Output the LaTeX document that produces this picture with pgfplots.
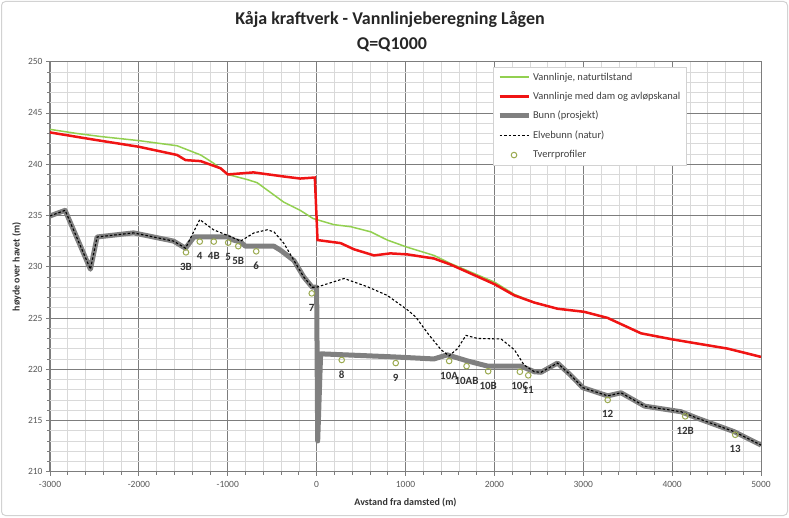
\documentclass[border=0pt]{standalone}
\usepackage{fontspec}
\setmainfont{Carlito}
\usepackage{pgfplots}
\usepackage{pgfplotstable}
\pgfplotsset{compat=1.18}
\definecolor{natgreen}{RGB}{146,208,80}
\definecolor{damred}{RGB}{240,20,20}
\definecolor{bunngray}{RGB}{128,128,128}
\definecolor{profcol}{RGB}{155,170,80}
\definecolor{majgrid}{RGB}{125,125,125}
\definecolor{mingrid}{RGB}{217,217,217}
\definecolor{ticktext}{RGB}{89,89,89}
\definecolor{framecol}{RGB}{210,210,210}
\pgfplotsset{legend image code/.code={\draw[mark repeat=2,mark phase=2,#1] plot coordinates {(0pt,0pt) (14.5pt,0pt) (29pt,0pt)};}}

\pgfplotstableread{
x y
-3000 243.4
-2700 243.0
-2430 242.7
-2000 242.3
-1570 241.8
-1305 240.9
-1160 240.1
-1000 239.0
-780 238.5
-670 238.2
-370 236.3
-185 235.5
-40 234.7
195 234.1
385 233.9
610 233.4
795 232.6
1020 231.9
1320 231.1
1510 230.3
2000 228.5
2225 227.3
2450 226.5
2710 225.9
3010 225.6
3275 225.0
3650 223.5
4010 222.9
4630 222.0
5000 221.2
}\natur

\pgfplotstableread{
x y
-3000 243.1
-2510 242.4
-2000 241.7
-1570 240.9
-1475 240.4
-1305 240.3
-1080 239.6
-1000 239.0
-710 239.2
-370 238.8
-185 238.6
-20 238.7
10 232.6
270 232.3
420 231.7
645 231.1
830 231.3
1020 231.2
1320 230.8
1510 230.2
2000 228.3
2225 227.2
2450 226.5
2710 225.9
3010 225.6
3275 225.0
3650 223.5
4010 222.9
4630 222.0
5000 221.2
}\dam

\pgfplotstableread{
x y
-3000 234.95
-2830 235.5
-2545 229.75
-2470 232.9
-2060 233.3
-1610 232.5
-1475 231.8
-1380 232.9
-1000 232.9
-935 232.6
-855 232.4
-800 232.0
-480 232.0
-405 231.6
-255 230.6
-145 229.0
-50 228.0
0 228.0
12 213.0
45 221.5
870 221.2
1320 221.0
1470 221.4
1700 220.8
1925 220.3
2300 220.3
2450 219.75
2525 219.7
2710 220.6
2860 219.4
2995 218.2
3275 217.4
3425 217.7
3690 216.4
4100 215.85
4290 215.2
4700 213.9
5000 212.6
}\bunn

\pgfplotstableread{
x y
-3000 234.95
-2830 235.5
-2545 229.75
-2470 232.9
-2060 233.3
-1610 232.5
-1475 231.8
-1315 234.6
-1160 233.6
-1015 233.1
-855 232.5
-705 233.3
-555 233.6
-480 233.4
-370 232.3
-255 230.6
-145 229.0
-50 228.0
0 228.0
310 228.85
570 228.05
795 227.2
1020 225.8
1115 225.1
1250 223.5
1400 221.9
1490 221.3
1585 222.0
1680 223.3
1810 223.0
2075 222.95
2225 221.9
2335 220.4
2450 219.75
2525 219.7
2710 220.6
2860 219.4
2995 218.2
3275 217.4
3425 217.7
3690 216.4
4100 215.85
4290 215.2
4700 213.9
5000 212.6
}\elve

\pgfplotstableread{
x y lab
-1470 231.4 3B
-1315 232.45 4
-1157 232.45 4B
-995 232.35 5
-882 232.0 5B
-680 231.5 6
-55 227.4 7
282 220.9 8
890 220.6 9
1491 220.8 10A
1687 220.3 10AB
1930 219.8 10B
2287 219.75 10C
2381 219.4 11
3275 217.0 12
4147 215.4 12B
4710 213.6 13
}\prof

\begin{document}
\begin{tikzpicture}[x=1pt,y=1pt]
\useasboundingbox (0,0) rectangle (789,517);
\draw[draw=framecol, line width=1pt, rounded corners=4pt] (1.5,1.5) rectangle (787.5,515.5);
\node[font=\bfseries\fontsize{18}{18}\selectfont, text=black!85] at (390,497) {Kåja kraftverk - Vannlinjeberegning Lågen};
\node[font=\bfseries\fontsize{18}{18}\selectfont, text=black!85] at (392,472) {Q=Q1000};
\begin{axis}[
  scale only axis, width=711pt, height=410pt,
  at={(50pt,45.3pt)}, anchor=south west,
  xmin=-3000, xmax=5000, ymin=210, ymax=250,
  xtick={-3000,-2000,...,5000}, ytick={210,215,...,250},
  minor x tick num=4, minor y tick num=4,
  grid=both,
  major grid style={draw=majgrid, line width=0.9pt},
  minor grid style={draw=mingrid, line width=0.6pt},
  axis line style={draw=majgrid, line width=1pt},
  tick style={draw=majgrid, line width=0.8pt},
  tick align=outside, major tick length=4pt, minor tick length=3pt,
  xtick pos=left, ytick pos=left,
  tick label style={font=\fontsize{9.5}{10}\selectfont, text=ticktext},
  xticklabel style={yshift=-2pt},
  /pgf/number format/assume math mode=true,
  /pgf/number format/1000 sep={},
  xlabel={Avstand fra damsted (m)}, ylabel={høyde over havet (m)},
  label style={font=\bfseries\fontsize{10}{10}\selectfont, text=black!80},
  xlabel style={yshift=-4pt},
  legend style={at={(0.6235,0.987)}, anchor=north west, draw=framecol, fill=white,
    font=\fontsize{10.5}{12}\selectfont, text=black!75, row sep=6.5pt, inner sep=3.5pt},
  legend cell align=left,
]
\addplot[natgreen, line width=1.5pt] table {\natur};
\addlegendentry{Vannlinje, naturtilstand}
\addplot[damred, line width=2.5pt] table {\dam};
\addlegendentry{Vannlinje med dam og avløpskanal}
\addplot[bunngray, line width=5pt, line join=round] table {\bunn};
\addlegendentry{Bunn (prosjekt)}
\addplot[black, line width=1.1pt, dash pattern=on 2.5pt off 2pt] table {\elve};
\addlegendentry{Elvebunn (natur)}
\addplot[only marks, mark=o, mark size=2.8pt, mark options={draw=profcol, line width=1pt},
  point meta=explicit symbolic, nodes near coords,
  every node near coord/.append style={anchor=north, yshift=-7pt, font=\bfseries\fontsize{11}{11}\selectfont, text=black!80}]
  table[meta=lab] {\prof};
\addlegendentry{Tverrprofiler}
\end{axis}
\end{tikzpicture}
\end{document}
